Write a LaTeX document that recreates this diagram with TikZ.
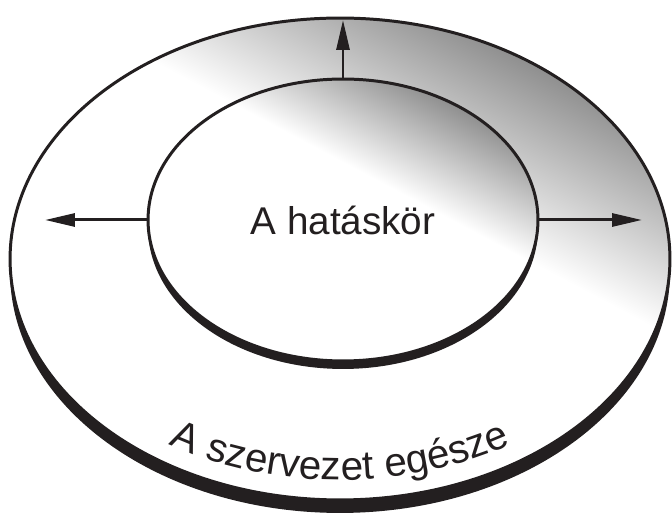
\documentclass[tikz,border=0pt]{standalone}
\usepackage{fontspec}
\setmainfont{Liberation Sans}
\usetikzlibrary{arrows.meta,shapes.geometric,shadows,decorations.text}

\definecolor{ink}{HTML}{231F20}
\pgfdeclareverticalshading{korfeny}{100bp}{color(0bp)=(white); color(58bp)=(white); color(75bp)=(black!46); color(100bp)=(black!46)}

\begin{document}
\begin{tikzpicture}[
    x=0.02cm, y=0.02cm,
    disk/.style={ellipse, draw=ink, line width=1.7pt, inner sep=0pt, shading=korfeny, shading angle=-28},
    nyil/.style={-{Triangle[length=0.6cm, width=0.26cm]}, draw=ink, line width=1.7pt},
    felirat/.style={font=\fontsize{22}{26}\selectfont, text=ink}
]
\useasboundingbox (0,0) rectangle (672,516);
\node[disk, minimum width=13.2cm, minimum height=9.64cm,
      drop shadow={fill=ink, opacity=1, shadow xshift=0cm, shadow yshift=-0.26cm}] (szervezet) at (340,257) {};
\node[disk, felirat, minimum width=7.8cm, minimum height=5.64cm,
      drop shadow={fill=ink, opacity=1, shadow xshift=0cm, shadow yshift=-0.16cm}] (kor) at (343,296) {A hatáskör};

\coordinate (fel) at (343,496);
\coordinate (bal) at (45,296);
\coordinate (jobb) at (642,296);

\draw[nyil] (kor.north) -- (fel);
\draw[nyil] (kor.west) -- (bal);
\draw[nyil] (kor.east) -- (jobb);

\path[decorate, decoration={text along path, text align=center, text color=ink,
      text={|\fontsize{23}{27}\selectfont|A szervezet egésze}}]
  (szervezet.center) ++(222:314 and 221) arc[start angle=222, end angle=318, x radius=314, y radius=221];
\end{tikzpicture}
\end{document}
